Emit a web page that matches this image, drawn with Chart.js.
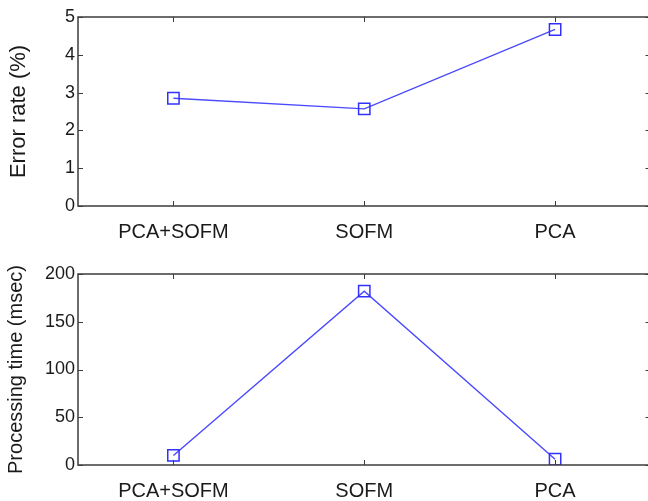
<!DOCTYPE html>
<html>
<head>
<meta charset="utf-8">
<script src="https://cdn.jsdelivr.net/npm/chart.js@4"></script>
<style>
  html, body { margin: 0; padding: 0; background: #fff; overflow: hidden; width: 648px; height: 501px; }
  .panel { position: absolute; left: 0; }
</style>
</head>
<body>
<div class="panel" style="top:0"><canvas id="errChart" width="660" height="250"></canvas></div>
<div class="panel" style="top:250px"><canvas id="timeChart" width="660" height="251"></canvas></div>
<script>
const methods = ['PCA+SOFM', 'SOFM', 'PCA'];
const errorRate = [2.85, 2.57, 4.67];      // %
const processingTime = [10, 182, 6];       // msec

const AXIS_COLOR = '#3c3c3c';
const TEXT_COLOR = '#1a1a1a';
const LINE_COLOR = '#4a4aff';
const FONT = 'Liberation Sans, Arial, sans-serif';

// box around the plot area plus inward tick marks on all four sides
const boxTicks = {
  id: 'boxTicks',
  afterDraw(chart) {
    const { ctx, chartArea: a, scales } = chart;
    const len = 5;
    ctx.save();
    ctx.strokeStyle = AXIS_COLOR;
    ctx.lineWidth = 1.5;
    ctx.strokeRect(a.left, a.top, a.right - a.left, a.bottom - a.top);
    ctx.lineWidth = 1;
    ctx.beginPath();
    scales.x.ticks.forEach((t, i) => {
      const px = Math.round(scales.x.getPixelForTick(i)) + 0.5;
      ctx.moveTo(px, a.bottom); ctx.lineTo(px, a.bottom - len);
      ctx.moveTo(px, a.top); ctx.lineTo(px, a.top + len);
    });
    scales.y.ticks.forEach((t, i) => {
      const py = Math.round(scales.y.getPixelForTick(i)) + 0.5;
      ctx.moveTo(a.left, py); ctx.lineTo(a.left + len, py);
      ctx.moveTo(a.right, py); ctx.lineTo(a.right - len, py);
    });
    ctx.stroke();
    ctx.restore();
  }
};

function makeChart(id, values, yMax, yStep, yTitle, titleSize, titlePad, padTop, xHeight) {
  return new Chart(document.getElementById(id), {
    type: 'line',
    data: {
      labels: methods,
      datasets: [{
        data: values,
        borderColor: LINE_COLOR,
        borderWidth: 1.4,
        pointStyle: 'rect',
        pointRadius: 8,
        pointBorderWidth: 1.5,
        pointBorderColor: '#3030ff',
        pointBackgroundColor: 'rgba(0,0,0,0)',
        tension: 0
      }]
    },
    options: {
      responsive: false,
      animation: false,
      devicePixelRatio: 1,
      layout: { padding: { left: 0, right: 9, top: padTop, bottom: 0 } },
      plugins: { legend: { display: false }, tooltip: { enabled: false } },
      scales: {
        x: {
          type: 'category',
          offset: true,
          grid: { display: false, drawTicks: false },
          border: { display: false },
          ticks: { color: TEXT_COLOR, font: { family: FONT, size: 20 }, padding: 14, maxRotation: 0 },
          afterFit: s => { s.height = xHeight; }
        },
        y: {
          min: 0,
          max: yMax,
          grid: { display: false, drawTicks: false },
          border: { display: false },
          ticks: { stepSize: yStep, color: TEXT_COLOR, font: { family: FONT, size: 18 }, padding: 3 },
          title: { display: true, text: yTitle, color: TEXT_COLOR, font: { family: FONT, size: titleSize }, padding: { top: titlePad, bottom: 0 } },
          afterFit: s => { s.width = 78; }
        }
      }
    },
    plugins: [boxTicks]
  });
}

makeChart('errChart', errorRate, 5, 1, 'Error rate (%)', 22, 6, 17, 44);
makeChart('timeChart', processingTime, 200, 50, 'Processing time (msec)', 20, 4, 24, 36);
</script>
</body>
</html>
